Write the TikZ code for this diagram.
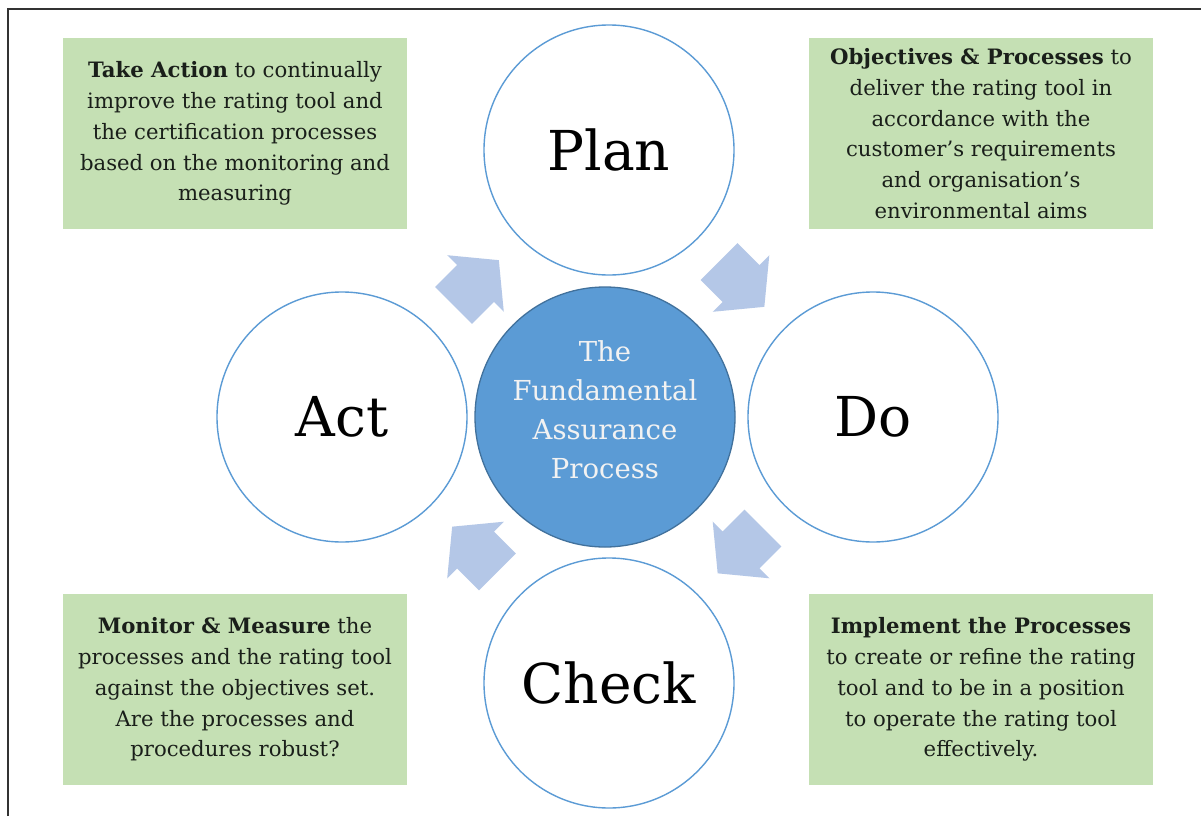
\documentclass[tikz,border=0pt]{standalone}
\usepackage{fontspec}
\setmainfont{DejaVu Serif}
\usetikzlibrary{calc}
\definecolor{boxgreen}{HTML}{C5E0B4}
\definecolor{ringblue}{HTML}{5B9BD5}
\definecolor{hubblue}{HTML}{5B9BD5}
\definecolor{hubedge}{HTML}{41719C}
\definecolor{arrowblue}{HTML}{B4C7E7}
\definecolor{txtdark}{HTML}{1A1F1A}
\definecolor{hubtext}{HTML}{F2F2F2}
\tikzset{
  stage/.style={circle, draw=ringblue, line width=1.4pt, fill=white, minimum size=250pt, inner sep=0pt,
    font=\fontsize{55}{60}\selectfont, text=black},
  hub/.style={circle, draw=hubedge, line width=1.3pt, fill=hubblue, minimum size=260pt, inner sep=0pt},
  hublabel/.style={align=center, font=\fontsize{27.5}{39}\selectfont, text=hubtext, inner sep=0pt},
  notebox/.style={rectangle, fill=boxgreen, minimum width=344pt, minimum height=191pt, inner sep=0pt,
    align=center, font=\fontsize{21.2}{30.8}\selectfont, text=txtdark},
  blockarrow/.pic={\fill[arrowblue] (-31,-26) -- (0,-26) -- (0,-40) -- (33,0) -- (0,40) -- (0,26) -- (-31,26) -- cycle;}
}
\begin{document}
\begin{tikzpicture}[x=1pt, y=-1pt]
\useasboundingbox (0,0) rectangle (1201,816);
\fill[white] (0,0) rectangle (1201,816);
\draw[line width=1.5pt, draw=black!80] (8,816) -- (8,9) -- (1201,9);

\node[notebox] (tl) at (235,133.5) {\textbf{Take Action} to continually\\improve the rating tool and\\the certification processes\\based on the monitoring and\\measuring};
\node[notebox] (tr) at (981,133.5) {\textbf{Objectives \& Processes} to\\deliver the rating tool in\\accordance with the\\customer’s requirements\\and organisation’s\\environmental aims};
\node[notebox] (bl) at (235,689.5) {\textbf{Monitor \& Measure} the\\processes and the rating tool\\against the objectives set.\\Are the processes and\\procedures robust?};
\node[notebox] (br) at (981,689.5) {\textbf{Implement the Processes}\\to create or refine the rating\\tool and to be in a position\\to operate the rating tool\\effectively.};

\node[stage] (plan) at (609,150) {Plan};
\node[stage] (do) at (873,417) {Do};
\node[stage] (check) at (609,683) {Check};
\node[stage] (act) at (342,417) {Act};
\node[hub] (hub) at (605,417) {};
\node[hublabel] (hubtxt) at (605,410) {The\\Fundamental\\Assurance\\Process};

\pic[rotate=45] at ($(act.center)!0.5!(plan.center)$) {blockarrow};
\pic[rotate=-45] at ($(plan.center)!0.5!(do.center)$) {blockarrow};
\pic[rotate=-135] at ($(do.center)!0.5!(check.center)$) {blockarrow};
\pic[rotate=135] at ($(check.center)!0.5!(act.center)$) {blockarrow};
\end{tikzpicture}
\end{document}
